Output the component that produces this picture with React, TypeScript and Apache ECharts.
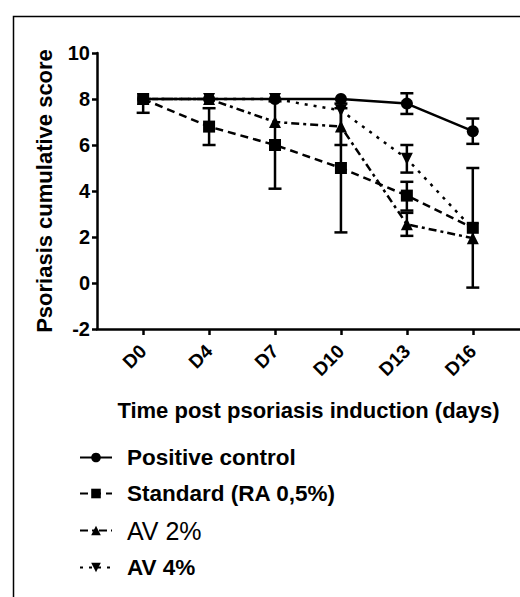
import React, { useEffect, useRef } from "react";
import * as echarts from "echarts";

const categories = ["D0", "D4", "D7", "D10", "D13", "D16"];
const yTicks = [-2, 0, 2, 4, 6, 8, 10];

const positiveMean = [8, 8, 8, 8, 7.8, 6.6];
const positiveLow = [8, 8, 8, 8, 7.35, 6.05];
const positiveHigh = [8, 8, 8, 8, 8.25, 7.15];

const standardMean = [8, 6.8, 6.0, 5.0, 3.8, 2.4];
const standardLow = [7.4, 6.0, 4.1, 2.2, 3.15, -0.2];
const standardHigh = [8, 7.6, 7.9, 7.8, 4.4, 5.0];

const av2Mean = [8, 8, 7.0, 6.8, 2.55, 1.95];
const av2Low = [8, 8, 7.0, 6.0, 2.05, 1.95];
const av2High = [8, 8, 7.0, 7.6, 3.05, 1.95];

const av4Mean = [8, 8, 8, 7.5, 5.4, 2.35];
const av4Low = [8, 8, 8, 7.5, 4.8, 2.35];
const av4High = [8, 8, 8, 7.5, 6.0, 2.35];

const seriesNames = ["Positive control", "Standard (RA 0,5%)", "AV 2%", "AV 4%"];

const FONT = "'Liberation Sans', Arial, Helvetica, sans-serif";

export default function App() {
  const ref = useRef<HTMLDivElement>(null);

  useEffect(() => {
    if (!ref.current) return;
    const chart = echarts.init(ref.current, undefined, { renderer: "svg" });
    const idx = categories.map((_, i) => i);

    const groups = [
      { mean: positiveMean, low: positiveLow, high: positiveHigh },
      { mean: standardMean, low: standardLow, high: standardHigh },
      { mean: av2Mean, low: av2Low, high: av2High },
      { mean: av4Mean, low: av4Low, high: av4High },
    ];
    const errData: number[][] = [];
    groups.forEach((g) => {
      g.mean.forEach((m, i) => {
        if (g.low[i] !== m || g.high[i] !== m) errData.push([i, g.low[i], g.high[i], m]);
      });
    });

    const lineCommon = {
      type: "line",
      symbolSize: 12,
      z: 3,
      itemStyle: { color: "#000" },
      emphasis: { disabled: true },
    };

    const option: any = {
      animation: false,
      backgroundColor: "#fff",
      textStyle: { fontFamily: FONT },
      grid: { left: 97, right: 0, top: 53, bottom: 268 },
      graphic: [
        {
          type: "rect",
          left: 11,
          top: 14,
          shape: { x: 0, y: 0, width: 540, height: 620 },
          style: { fill: "none", stroke: "#000", lineWidth: 1.5 },
          silent: true,
        },
      ],
      legend: {
        orient: "vertical",
        left: 74,
        top: 441,
        itemWidth: 32,
        itemHeight: 12,
        itemGap: 13,
        textStyle: { fontFamily: FONT, fontSize: 22.5, fontWeight: "bold", color: "#000", padding: [0, 0, 0, 10] },
        data: [
          { name: seriesNames[0] },
          { name: seriesNames[1] },
          { name: seriesNames[2], textStyle: { fontWeight: "normal", fontSize: 25 } },
          { name: seriesNames[3] },
        ],
      },
      xAxis: {
        type: "value",
        min: -0.7,
        max: 5.716,
        splitLine: { show: false },
        axisLine: { show: true, onZero: false, lineStyle: { color: "#000", width: 2.5 } },
        axisTick: { show: true, customValues: idx, length: 6, lineStyle: { color: "#000", width: 2.5 } },
        axisLabel: {
          customValues: idx,
          formatter: (v: number) => categories[Math.round(v)] ?? "",
          rotate: 45,
          margin: 19,
          fontFamily: FONT,
          fontSize: 19,
          fontWeight: "bold",
          color: "#000",
        },
        name: "Time post psoriasis induction (days)",
        nameLocation: "middle",
        nameGap: 70,
        nameTextStyle: { fontFamily: FONT, fontSize: 22, fontWeight: "bold", color: "#000" },
      },
      yAxis: {
        type: "value",
        min: -2,
        max: 10,
        interval: 2,
        splitLine: { show: false },
        axisLine: { show: true, onZero: false, lineStyle: { color: "#000", width: 2.5 } },
        axisTick: { show: true, length: 5, lineStyle: { color: "#000", width: 2.5 } },
        axisLabel: {
          margin: 7,
          fontFamily: FONT,
          fontSize: 20,
          fontWeight: "bold",
          color: "#000",
          formatter: (v: number) => (yTicks.includes(v) ? String(v) : ""),
        },
        name: "Psoriasis cumulative score",
        nameLocation: "middle",
        nameGap: 42,
        nameTextStyle: { fontFamily: FONT, fontSize: 22, fontWeight: "bold", color: "#000" },
      },
      series: [
        {
          type: "custom",
          name: "errorbars",
          z: 2,
          encode: { x: 0, y: [1, 2] },
          data: errData,
          renderItem: (params: any, api: any) => {
            const x = api.value(0);
            const lo = api.value(1);
            const hi = api.value(2);
            const m = api.value(3);
            const pLo = api.coord([x, lo]);
            const pHi = api.coord([x, hi]);
            const half = 6.5;
            const style = { stroke: "#000", lineWidth: 2.5, fill: "none" };
            const children: any[] = [
              { type: "line", shape: { x1: pLo[0], y1: pLo[1], x2: pHi[0], y2: pHi[1] }, style },
            ];
            if (lo !== m) children.push({ type: "line", shape: { x1: pLo[0] - half, y1: pLo[1], x2: pLo[0] + half, y2: pLo[1] }, style });
            if (hi !== m) children.push({ type: "line", shape: { x1: pHi[0] - half, y1: pHi[1], x2: pHi[0] + half, y2: pHi[1] }, style });
            return { type: "group", children };
          },
        },
        {
          ...lineCommon,
          name: seriesNames[0],
          symbol: "circle",
          symbolSize: 12,
          lineStyle: { color: "#000", width: 2.5, type: "solid" },
          data: positiveMean.map((v, i) => [i, v]),
        },
        {
          ...lineCommon,
          name: seriesNames[1],
          symbol: "rect",
          symbolSize: 12,
          lineStyle: { color: "#000", width: 2.5, type: [8, 5] },
          data: standardMean.map((v, i) => [i, v]),
        },
        {
          ...lineCommon,
          name: seriesNames[2],
          symbol: "triangle",
          symbolSize: 12,
          lineStyle: { color: "#000", width: 2.5, type: [8, 4, 3, 4] },
          data: av2Mean.map((v, i) => [i, v]),
        },
        {
          ...lineCommon,
          name: seriesNames[3],
          symbol: "triangle",
          symbolRotate: 180,
          symbolSize: 12,
          lineStyle: { color: "#000", width: 2.5, type: [3, 6] },
          data: av4Mean.map((v, i) => [i, v]),
        },
      ],
    };
    chart.setOption(option);
    return () => chart.dispose();
  }, []);

  return (
    <div
      ref={ref}
      style={{ position: "absolute", left: 0, top: 0, width: 520, height: 597, background: "#fff" }}
    />
  );
}
